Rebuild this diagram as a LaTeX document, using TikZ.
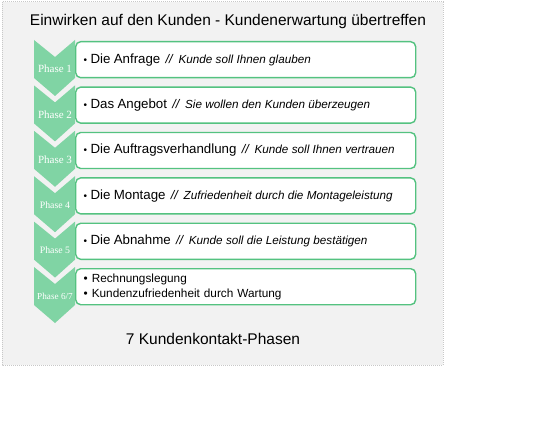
\documentclass[tikz,border=0pt]{standalone}
\usepackage{fontspec}
\setmainfont{Liberation Sans}
\newfontfamily\phasefont{Liberation Serif}
\definecolor{chevfill}{RGB}{128,212,164}
\definecolor{boxline}{RGB}{84,194,128}
\definecolor{bgfill}{RGB}{242,242,242}
\definecolor{bgline}{RGB}{200,200,200}
\tikzset{
  chevron/.style={fill=chevfill, draw=none},
  phasebox/.style={draw=boxline, line width=1.4pt, fill=white, rounded corners=5pt,
    anchor=north west, minimum width=340pt, minimum height=36pt,
    text width=324pt, inner xsep=8pt, align=left},
  phaselabel/.style={text=white, font=\phasefont\fontsize{11}{13}\selectfont, inner sep=0pt},
  smallphase/.style={phaselabel, font=\phasefont\fontsize{9.8}{11}\selectfont},
  maintext/.style={font=\fontsize{15.5}{18}\selectfont, text=black},
}
\newcommand{\mainitem}[2]{\textbullet\ {\fontsize{13.3}{15}\selectfont #1}\hspace{2pt} {\fontsize{12.5}{14}\selectfont\itshape//}\hspace{2.5pt} {\fontsize{11.7}{13}\selectfont\itshape #2}}
\newcommand{\chev}[1]{\fill[chevron] (34,#1) -- (55,#1+17) -- (75,#1) -- (75,#1+38) -- (55,#1+56) -- (34,#1+38) -- cycle;}
\begin{document}
\begin{tikzpicture}[x=1pt,y=-1pt]
\useasboundingbox (0,0) rectangle (550,444);
\fill[white] (0,0) rectangle (550,444);
\draw[bgline, fill=bgfill, line width=1pt, densely dotted] (2,2) rectangle (443,365);
\node[maintext] (title) at (228,21) {Einwirken auf den Kunden - Kundenerwartung übertreffen};
% chevrons
\chev{40}
\chev{85.4}
\chev{130.8}
\chev{176.2}
\chev{221.6}
\chev{267}
% boxes
\node[phasebox] (b1) at (75,41) {\mainitem{Die Anfrage}{Kunde soll Ihnen glauben}};
\node[phasebox] (b2) at (75,86.4) {\mainitem{Das Angebot}{Sie wollen den Kunden überzeugen}};
\node[phasebox] (b3) at (75,131.8) {\mainitem{Die Auftragsverhandlung}{Kunde soll Ihnen vertrauen}};
\node[phasebox] (b4) at (75,177.2) {\mainitem{Die Montage}{Zufriedenheit durch die Montageleistung}};
\node[phasebox] (b5) at (75,222.6) {\mainitem{Die Abnahme}{Kunde soll die Leistung bestätigen}};
\node[phasebox, font=\fontsize{11.8}{14.5}\selectfont] (b6) at (75,268) {\textbullet\ Rechnungslegung\\\textbullet\ Kundenzufriedenheit durch Wartung};
% phase labels
\node[phaselabel] (p1) at (55,69) {Phase 1};
\node[phaselabel] (p2) at (55,114.4) {Phase 2};
\node[phaselabel] (p3) at (55,159.8) {Phase 3};
\node[smallphase] (p4) at (55,205.2) {Phase 4};
\node[smallphase] (p5) at (55,250.6) {Phase 5};
\node[phaselabel, font=\phasefont\fontsize{9.2}{11}\selectfont] (p6) at (55,296) {Phase 6/7};
\node[maintext] (foot) at (213,339) {7 Kundenkontakt-Phasen};
\end{tikzpicture}
\end{document}
